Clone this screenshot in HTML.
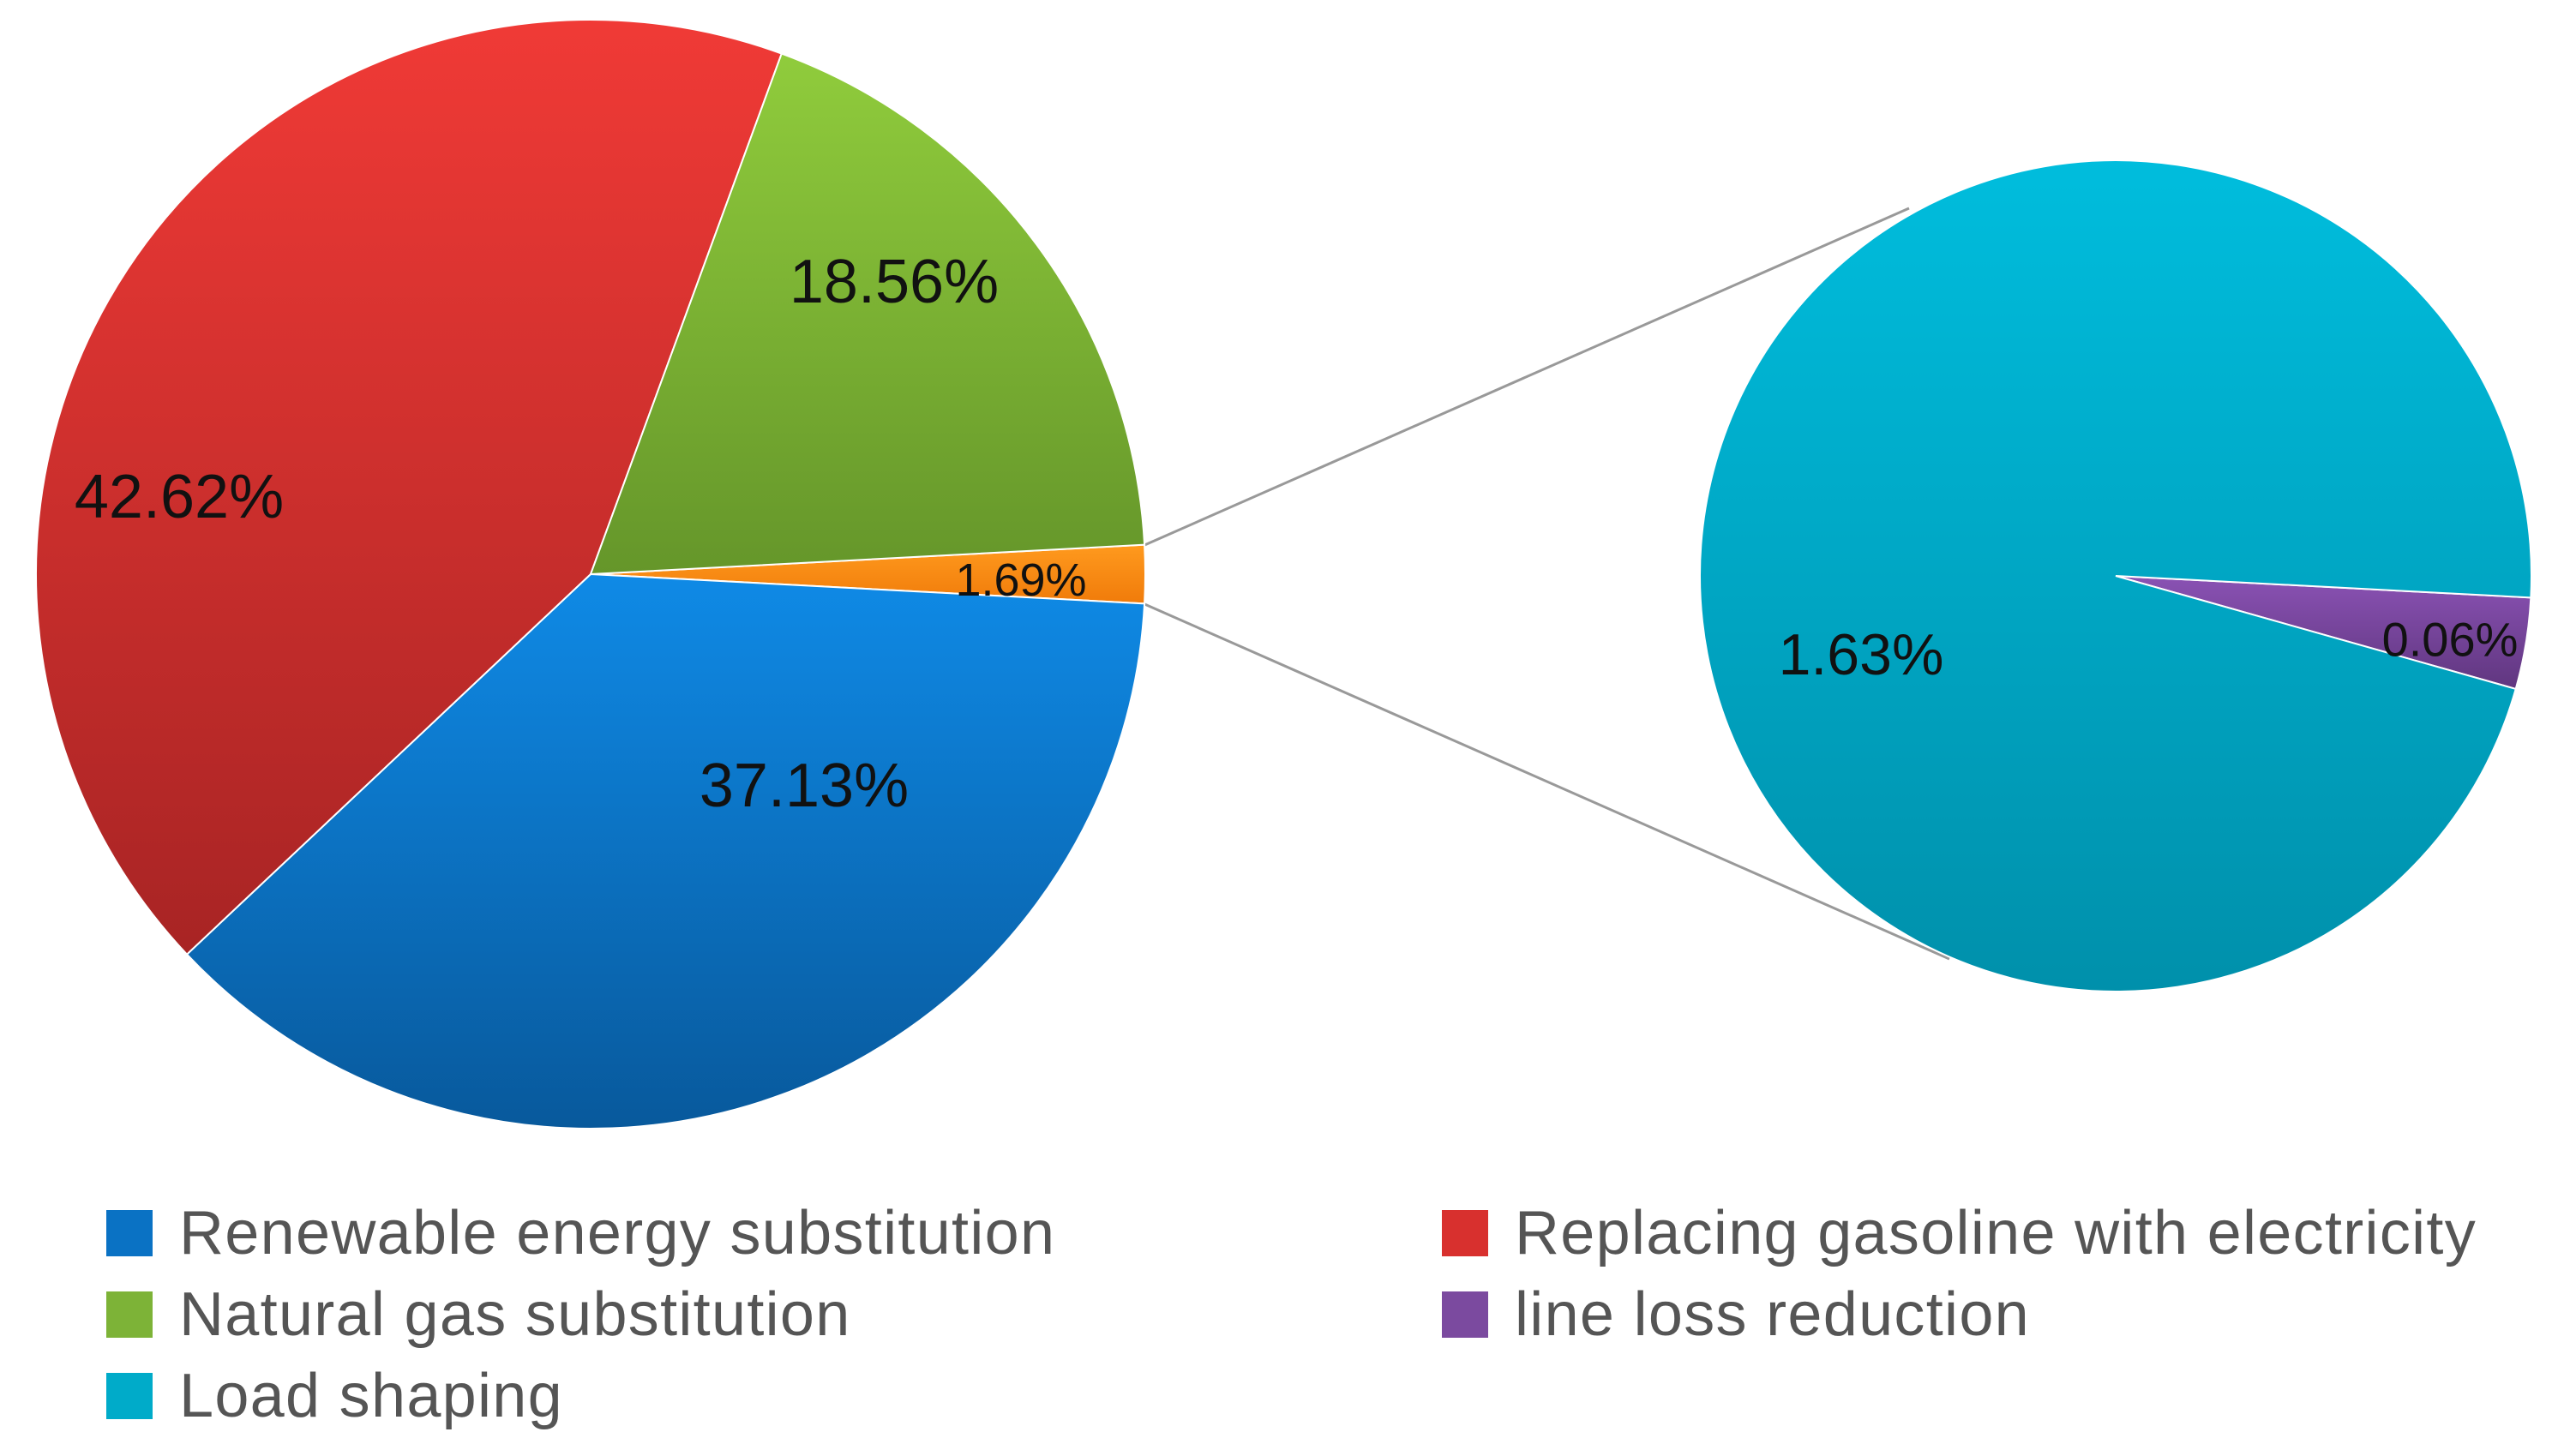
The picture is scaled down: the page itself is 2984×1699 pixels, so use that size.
<!DOCTYPE html>
<html><head><meta charset="utf-8"><style>
html,body{margin:0;padding:0;background:#fff;}
svg{display:block;font-family:"Liberation Sans",Calibri,sans-serif;}
</style></head><body>
<svg id="chart" width="2984" height="1699" viewBox="0 0 2984 1699" xmlns="http://www.w3.org/2000/svg">
<defs>
<linearGradient id="gBlue" x1="0" y1="0" x2="0" y2="1"><stop offset="0" stop-color="#0f8ae6"/><stop offset="1" stop-color="#08599c"/></linearGradient>
<linearGradient id="gRed" x1="0" y1="0" x2="0" y2="1"><stop offset="0" stop-color="#f03a36"/><stop offset="1" stop-color="#a82424"/></linearGradient>
<linearGradient id="gGreen" x1="0" y1="0" x2="0" y2="1"><stop offset="0" stop-color="#90cc3c"/><stop offset="1" stop-color="#65962a"/></linearGradient>
<linearGradient id="gOrange" x1="0" y1="0" x2="0" y2="1"><stop offset="0" stop-color="#ff9a1e"/><stop offset="1" stop-color="#f07b0a"/></linearGradient>
<linearGradient id="gCyan" x1="0" y1="0" x2="0" y2="1"><stop offset="0" stop-color="#00bddd"/><stop offset="1" stop-color="#0090ab"/></linearGradient>
<linearGradient id="gPurple" x1="0" y1="0" x2="0" y2="1"><stop offset="0" stop-color="#8a52b4"/><stop offset="1" stop-color="#60367f"/></linearGradient>
</defs>
<line x1="1333" y1="637" x2="2227" y2="243" stroke="#999" stroke-width="3"/>
<line x1="1333" y1="704" x2="2274" y2="1119" stroke="#999" stroke-width="3"/>
<g id="mainPie"></g>
<g id="subPie"></g>
<g id="labels"></g>
<g id="legend"></g>
</svg>
<script>
const mainCategories = ["Other (pie of pie)", "Renewable energy substitution", "Replacing gasoline with electricity", "Natural gas substitution"];
const mainValues = [1.69, 37.13, 42.62, 18.56];
const mainFills = ["url(#gOrange)", "url(#gBlue)", "url(#gRed)", "url(#gGreen)"];
const subCategories = ["line loss reduction", "Load shaping"];
const subValues = [0.06, 1.63];
const subFills = ["url(#gPurple)", "url(#gCyan)"];
const legendLabels = ["Renewable energy substitution", "Replacing gasoline with electricity", "Natural gas substitution", "line loss reduction", "Load shaping"];
const legendColors = ["#0a72c4", "#d8302e", "#7db337", "#7b4a9f", "#00abc9"];

const NS = "http://www.w3.org/2000/svg";
function slicePath(cx, cy, r, a0, a1) {
  const r0 = a0 * Math.PI / 180, r1 = a1 * Math.PI / 180;
  const x0 = cx + r * Math.cos(r0), y0 = cy + r * Math.sin(r0);
  const x1 = cx + r * Math.cos(r1), y1 = cy + r * Math.sin(r1);
  const large = (a1 - a0) > 180 ? 1 : 0;
  return `M${cx},${cy} L${x0},${y0} A${r},${r} 0 ${large} 1 ${x1},${y1} Z`;
}
function drawPie(gid, values, fills, names, cx, cy, r, startAngle) {
  const g = document.getElementById(gid);
  const total = values.reduce((a, b) => a + b, 0);
  let a = startAngle;
  values.forEach((v, i) => {
    const span = v / total * 360;
    const p = document.createElementNS(NS, "path");
    p.setAttribute("d", slicePath(cx, cy, r, a, a + span));
    p.setAttribute("fill", fills[i]);
    p.setAttribute("stroke", "#fff");
    p.setAttribute("stroke-width", "2");
    
    
    g.appendChild(p);
    a += span;
  });
}
const mainStart = -(mainValues[0] / mainValues.reduce((a, b) => a + b, 0) * 360) / 2;
drawPie("mainPie", mainValues, mainFills, mainCategories, 689, 670, 647, mainStart);
drawPie("subPie", subValues, subFills, subCategories, 2468, 672, 485, 3);

const labelTexts = ["18.56%", "42.62%", "1.69%", "37.13%", "1.63%", "0.06%"];
const labelPos = [[1043, 329, 72], [209, 580, 72], [1191, 677, 54], [938, 917, 72], [2171, 764, 68], [2858, 746, 56]];
const lg = document.getElementById("labels");
labelTexts.forEach((t, i) => {
  const e = document.createElementNS(NS, "text");
  e.setAttribute("x", labelPos[i][0]);
  e.setAttribute("y", labelPos[i][1]);
  e.setAttribute("font-size", labelPos[i][2]);
  e.setAttribute("text-anchor", "middle");
  e.setAttribute("dominant-baseline", "central");
  e.setAttribute("fill", "#111");
  e.textContent = t;
  
  
  lg.appendChild(e);
});

const legPos = [[124, 1439], [1682, 1439], [124, 1534], [1682, 1534], [124, 1629]];
const leg = document.getElementById("legend");
legendLabels.forEach((t, i) => {
  const [x, y] = legPos[i];
  const g = document.createElementNS(NS, "g");
  
  
  const r = document.createElementNS(NS, "rect");
  r.setAttribute("x", x); r.setAttribute("y", y - 27);
  r.setAttribute("width", 54); r.setAttribute("height", 54);
  r.setAttribute("fill", legendColors[i]);
  
  
  const tx = document.createElementNS(NS, "text");
  tx.setAttribute("x", x + 85); tx.setAttribute("y", y);
  tx.setAttribute("font-size", 72);
  tx.setAttribute("letter-spacing", "1.3");
  tx.setAttribute("dominant-baseline", "central");
  tx.setAttribute("fill", "#555");
  tx.textContent = t;
  
  
  g.appendChild(r); g.appendChild(tx);
  leg.appendChild(g);
});
</script>
</body></html>
